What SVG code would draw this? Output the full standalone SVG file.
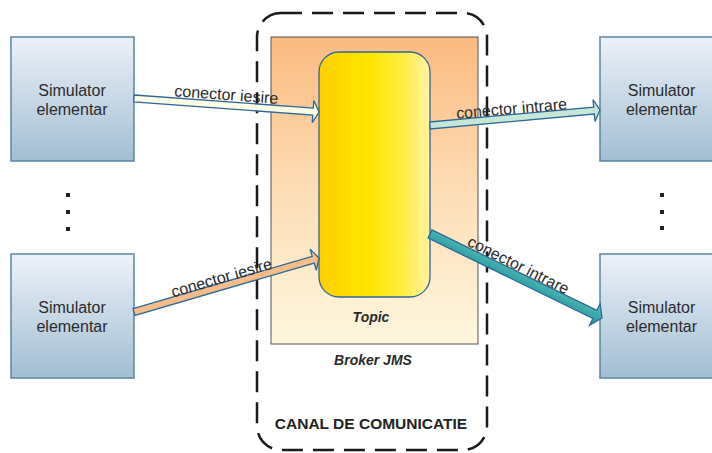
<svg xmlns="http://www.w3.org/2000/svg" width="712" height="453" viewBox="0 0 712 453">
<defs>
<linearGradient id="gBox" x1="0" y1="0" x2="0" y2="1">
<stop offset="0" stop-color="#ECF1F9"/>
<stop offset="1" stop-color="#A2BED2"/>
</linearGradient>
<linearGradient id="gBroker" x1="0" y1="0" x2="0" y2="1">
<stop offset="0" stop-color="#FBBA80"/>
<stop offset="0.5" stop-color="#FDDDB6"/>
<stop offset="1" stop-color="#FEF7DE"/>
</linearGradient>
<linearGradient id="gTopic" x1="0" y1="0" x2="1" y2="0">
<stop offset="0" stop-color="#FFCF00"/>
<stop offset="0.45" stop-color="#FFE600"/>
<stop offset="0.75" stop-color="#FFED40"/>
<stop offset="1" stop-color="#FFF3A6"/>
</linearGradient>
<linearGradient id="gTeal" x1="0" y1="0" x2="0" y2="1">
<stop offset="0" stop-color="#5CC4BC"/>
<stop offset="1" stop-color="#1E9098"/>
</linearGradient>
<style>
.box{fill:url(#gBox);stroke:#5A86A2;stroke-width:1.5}
.lbl{font-family:"Liberation Sans",Arial,sans-serif;font-size:16px;fill:#2B2B2B;text-anchor:middle}
.bi{font-family:"Liberation Sans",Arial,sans-serif;font-weight:bold;font-style:italic;font-size:14px;fill:#2B2B2B;text-anchor:middle}
.canal{font-family:"Liberation Sans",Arial,sans-serif;font-weight:bold;font-size:15.5px;fill:#222;text-anchor:middle}
.arr{stroke:#2E679A;stroke-width:1.3;stroke-linejoin:miter}
.dot{fill:#222}
</style>
</defs>
<rect width="712" height="453" fill="#FFFFFF"/>

<g id="canal">
<rect x="257" y="13" width="230" height="437" rx="24" ry="24" fill="none" stroke="#1A1A1A" stroke-width="2.5" stroke-dasharray="21 10"/>
<text class="canal" x="371" y="429">CANAL DE COMUNICATIE</text>
</g>

<g id="broker">
<rect x="271" y="37" width="207" height="307" fill="url(#gBroker)" stroke="#555555" stroke-width="1"/>
<text class="bi" x="373" y="365">Broker JMS</text>
</g>

<g id="topic">
<rect x="319" y="52" width="111" height="245" rx="20" ry="20" fill="url(#gTopic)" stroke="#2E679A" stroke-width="1.3"/>
<text class="bi" x="371" y="322">Topic</text>
</g>

<g id="sim-left-top">
<rect class="box" x="11" y="37" width="123" height="124"/>
<text class="lbl" x="72" y="96">Simulator</text>
<text class="lbl" x="72" y="115">elementar</text>
</g>
<g id="sim-left-bottom">
<rect class="box" x="11" y="254" width="123" height="124"/>
<text class="lbl" x="72" y="313">Simulator</text>
<text class="lbl" x="72" y="332">elementar</text>
</g>
<g id="sim-right-top">
<rect class="box" x="600" y="37" width="123" height="124"/>
<text class="lbl" x="661.5" y="96">Simulator</text>
<text class="lbl" x="661.5" y="115">elementar</text>
</g>
<g id="sim-right-bottom">
<rect class="box" x="600" y="254" width="123" height="124"/>
<text class="lbl" x="661.5" y="313">Simulator</text>
<text class="lbl" x="661.5" y="332">elementar</text>
</g>

<g id="dots">
<rect class="dot" x="66" y="193" width="4" height="4"/>
<rect class="dot" x="66" y="210" width="4" height="4"/>
<rect class="dot" x="66" y="227" width="4" height="4"/>
<rect class="dot" x="660" y="193" width="4" height="4"/>
<rect class="dot" x="660" y="210" width="4" height="4"/>
<rect class="dot" x="660" y="226" width="4" height="4"/>
</g>

<g id="connectors">
<g transform="translate(134,98.5) rotate(4.17)">
<polygon class="arr" fill="#FFFDE6" points="0,-3.5 179.5,-3.5 179.5,-11 185.5,0 179.5,11 179.5,3.5 0,3.5"/>
</g>
<g transform="translate(134,312) rotate(-16.27)">
<polygon class="arr" fill="#F9BD8A" points="0,-3.5 186.7,-3.5 186.7,-11 192.7,0 186.7,11 186.7,3.5 0,3.5"/>
</g>
<g transform="translate(430,125.5) rotate(-5.21)">
<polygon class="arr" fill="#C6E7D7" points="0,-3.5 164.7,-3.5 164.7,-11 170.7,0 164.7,11 164.7,3.5 0,3.5"/>
</g>
<g transform="translate(430,234) rotate(26.03)">
<polygon class="arr" fill="url(#gTeal)" points="0,-4.5 183.4,-4.5 183.4,-12 191.4,0 183.4,12 183.4,4.5 0,4.5"/>
</g>
<text class="lbl" transform="translate(226,100) rotate(4.17)">conector iesire</text>
<text class="lbl" transform="translate(223,283) rotate(-16.27)">conector iesire</text>
<text class="lbl" transform="translate(512,114) rotate(-5)">conector intrare</text>
<text class="lbl" transform="translate(516,270) rotate(26.5)">conector intrare</text>
</g>
</svg>
